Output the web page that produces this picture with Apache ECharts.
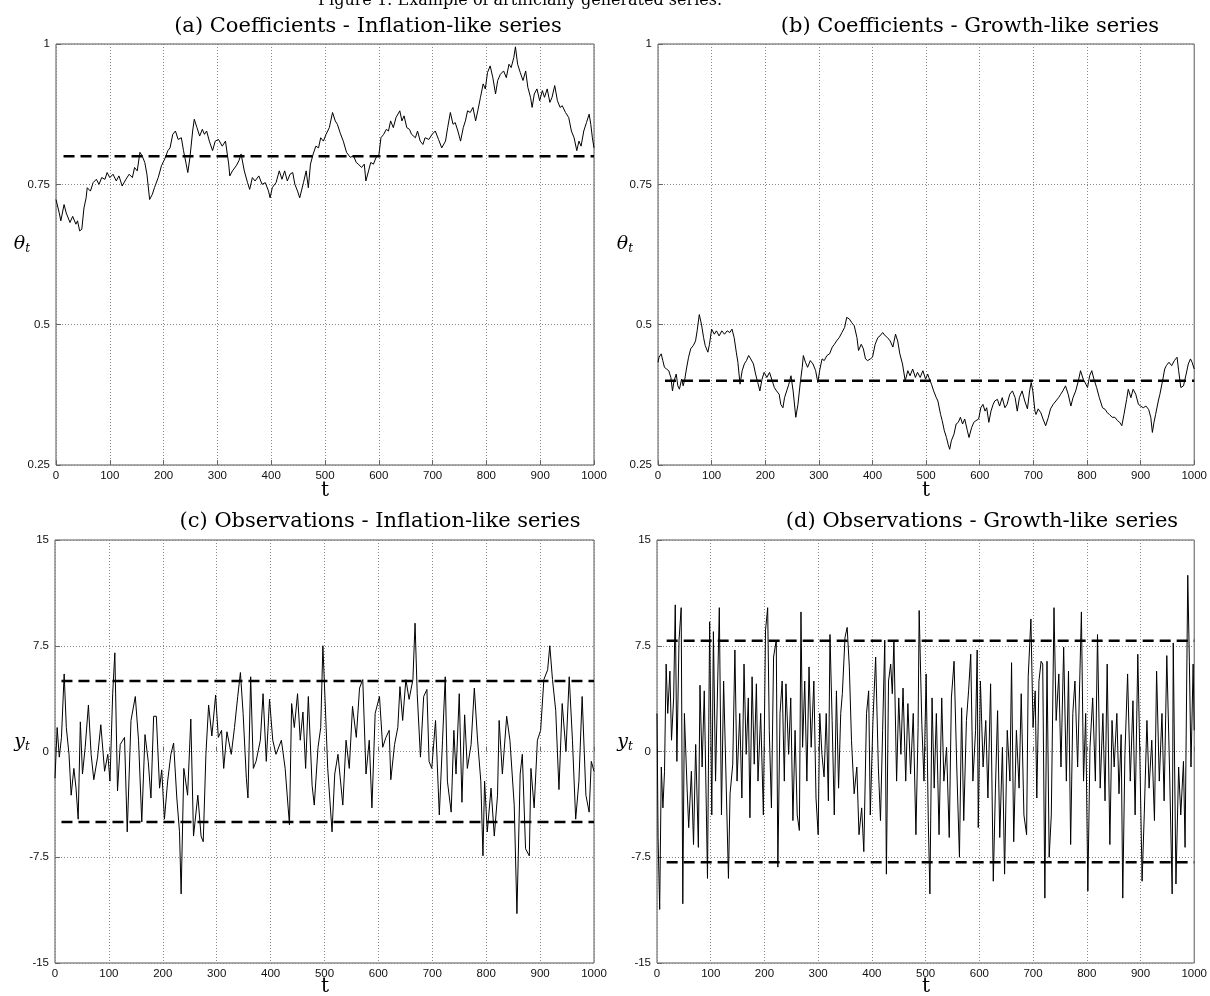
<!DOCTYPE html>
<html>
<head>
<meta charset="utf-8">
<script src="https://cdn.jsdelivr.net/npm/echarts@6/dist/echarts.min.js"></script>
<style>
html,body{margin:0;padding:0;background:#fff;}
#chart{width:1210px;height:996px;}
</style>
</head>
<body>
<div id="chart"></div>
<script>
// (a) coefficients - inflation-like, [t, theta]
var thetaInflation = [[0,0.723],[6,0.699],[9,0.685],[15,0.714],[19,0.699],[26,0.682],[31,0.693],[37,0.679],[40,0.685],[44,0.667],[48,0.670],[52,0.708],[56,0.726],[58,0.744],[64,0.738],[69,0.753],[75,0.759],[80,0.75],[85,0.762],[91,0.759],[95,0.771],[100,0.762],[106,0.768],[112,0.756],[117,0.765],[123,0.747],[130,0.759],[136,0.768],[142,0.762],[146,0.78],[151,0.774],[156,0.807],[160,0.801],[165,0.789],[169,0.768],[174,0.723],[179,0.732],[183,0.744],[190,0.762],[196,0.783],[202,0.795],[208,0.81],[212,0.815],[217,0.839],[222,0.845],[227,0.83],[233,0.833],[237,0.81],[242,0.786],[245,0.771],[249,0.798],[254,0.845],[257,0.866],[262,0.851],[267,0.836],[272,0.848],[276,0.839],[280,0.845],[285,0.827],[291,0.81],[296,0.827],[302,0.83],[309,0.818],[315,0.827],[321,0.786],[323,0.765],[328,0.774],[335,0.783],[340,0.792],[344,0.804],[350,0.774],[356,0.753],[360,0.741],[365,0.762],[370,0.756],[377,0.765],[383,0.75],[389,0.753],[395,0.738],[398,0.726],[402,0.744],[409,0.753],[415,0.774],[420,0.759],[425,0.774],[430,0.756],[435,0.768],[440,0.771],[444,0.75],[449,0.738],[453,0.726],[460,0.753],[465,0.774],[469,0.744],[473,0.786],[478,0.804],[483,0.818],[488,0.815],[492,0.833],[497,0.827],[502,0.839],[508,0.851],[514,0.878],[519,0.863],[523,0.857],[528,0.842],[534,0.827],[540,0.807],[547,0.798],[553,0.801],[558,0.789],[562,0.786],[568,0.78],[573,0.786],[576,0.756],[581,0.774],[585,0.789],[590,0.786],[595,0.798],[600,0.801],[604,0.833],[609,0.839],[614,0.848],[618,0.845],[622,0.863],[627,0.851],[632,0.869],[639,0.881],[643,0.863],[647,0.872],[652,0.851],[657,0.848],[661,0.839],[668,0.833],[672,0.845],[677,0.827],[682,0.821],[686,0.833],[693,0.83],[699,0.839],[705,0.845],[711,0.83],[717,0.815],[724,0.827],[728,0.851],[733,0.878],[738,0.857],[742,0.86],[747,0.845],[752,0.827],[757,0.851],[761,0.863],[765,0.881],[770,0.878],[775,0.887],[780,0.863],[784,0.881],[789,0.905],[794,0.929],[798,0.92],[802,0.949],[807,0.961],[812,0.94],[817,0.911],[821,0.935],[826,0.946],[832,0.952],[837,0.94],[842,0.964],[846,0.958],[851,0.976],[854,0.995],[858,0.964],[863,0.949],[868,0.935],[873,0.952],[877,0.923],[882,0.905],[885,0.887],[889,0.911],[894,0.92],[899,0.899],[904,0.917],[908,0.905],[913,0.92],[918,0.896],[922,0.905],[927,0.926],[932,0.899],[937,0.887],[941,0.89],[947,0.878],[953,0.869],[958,0.845],[963,0.833],[968,0.81],[972,0.827],[976,0.818],[981,0.845],[986,0.86],[991,0.875],[994,0.857],[997,0.833],[1000,0.815]];
var thetaInflationMean = [[14,0.8],[1000,0.8]];

// (b) coefficients - growth-like
var thetaGrowth = [[0,0.433],[2,0.442],[6,0.448],[9,0.436],[12,0.424],[16,0.421],[20,0.418],[24,0.406],[27,0.382],[30,0.4],[34,0.412],[37,0.391],[40,0.385],[44,0.403],[47,0.391],[50,0.403],[53,0.421],[57,0.442],[61,0.457],[66,0.463],[70,0.471],[73,0.489],[77,0.518],[81,0.501],[85,0.477],[88,0.463],[93,0.451],[96,0.465],[100,0.492],[105,0.483],[109,0.489],[114,0.48],[119,0.489],[124,0.483],[129,0.489],[134,0.486],[138,0.492],[142,0.477],[146,0.451],[149,0.433],[153,0.394],[157,0.418],[161,0.43],[165,0.436],[169,0.445],[173,0.439],[178,0.43],[182,0.412],[186,0.397],[190,0.382],[194,0.403],[198,0.415],[203,0.406],[208,0.415],[213,0.4],[217,0.388],[221,0.382],[226,0.376],[229,0.358],[233,0.352],[236,0.37],[240,0.382],[244,0.394],[248,0.409],[252,0.382],[257,0.335],[261,0.358],[265,0.394],[269,0.424],[271,0.445],[275,0.433],[279,0.424],[284,0.436],[289,0.43],[294,0.418],[298,0.397],[302,0.421],[306,0.439],[310,0.436],[315,0.445],[320,0.448],[325,0.46],[329,0.465],[333,0.471],[338,0.477],[343,0.486],[348,0.495],[352,0.513],[357,0.51],[361,0.504],[366,0.498],[371,0.477],[374,0.454],[379,0.465],[383,0.457],[387,0.439],[391,0.436],[396,0.439],[400,0.442],[405,0.465],[410,0.477],[414,0.48],[419,0.486],[424,0.48],[428,0.477],[433,0.471],[438,0.46],[443,0.483],[447,0.471],[451,0.448],[456,0.43],[461,0.4],[466,0.418],[470,0.409],[475,0.421],[480,0.406],[484,0.415],[489,0.406],[494,0.418],[499,0.403],[503,0.412],[505,0.406],[510,0.394],[514,0.382],[519,0.37],[522,0.364],[527,0.34],[530,0.329],[534,0.311],[538,0.299],[541,0.287],[544,0.278],[547,0.293],[552,0.305],[556,0.323],[560,0.326],[564,0.335],[568,0.323],[572,0.332],[577,0.311],[580,0.299],[585,0.317],[589,0.326],[593,0.329],[598,0.332],[602,0.352],[606,0.358],[610,0.346],[613,0.352],[617,0.326],[621,0.346],[625,0.358],[628,0.364],[633,0.367],[637,0.355],[642,0.37],[647,0.352],[651,0.358],[656,0.376],[661,0.382],[666,0.37],[670,0.346],[674,0.37],[679,0.382],[684,0.364],[689,0.35],[693,0.382],[696,0.397],[699,0.382],[703,0.346],[705,0.34],[709,0.35],[714,0.343],[718,0.332],[723,0.32],[728,0.335],[732,0.35],[737,0.358],[742,0.364],[747,0.37],[751,0.376],[755,0.382],[760,0.391],[765,0.376],[770,0.355],[774,0.37],[779,0.382],[784,0.4],[788,0.418],[793,0.403],[798,0.394],[801,0.388],[805,0.409],[809,0.418],[813,0.403],[818,0.388],[823,0.37],[829,0.352],[834,0.349],[838,0.343],[842,0.34],[847,0.335],[852,0.335],[857,0.329],[861,0.326],[865,0.32],[869,0.34],[874,0.367],[877,0.385],[882,0.37],[886,0.385],[891,0.376],[896,0.358],[900,0.355],[905,0.352],[910,0.355],[915,0.349],[919,0.335],[922,0.308],[925,0.326],[928,0.34],[933,0.364],[936,0.376],[941,0.4],[945,0.421],[948,0.427],[953,0.433],[958,0.427],[963,0.436],[968,0.442],[971,0.418],[975,0.388],[980,0.391],[985,0.412],[989,0.43],[993,0.439],[996,0.433],[1000,0.421]];
var thetaGrowthMean = [[13,0.4],[1000,0.4]];

// (c) observations - inflation-like
var obsInflation = [[0,-1.9],[4,1.7],[8,-0.4],[12,1.0],[17,5.5],[21,1.7],[26,-0.2],[30,-3.1],[35,-1.2],[39,-2.6],[43,-4.8],[47,2.1],[51,-1.6],[56,0.3],[62,3.3],[67,-0.2],[72,-2.0],[79,-0.4],[85,1.9],[92,-1.4],[98,-0.2],[102,-2.1],[107,4.1],[111,7.0],[116,-2.8],[121,0.5],[129,1.0],[134,-5.7],[141,2.2],[149,3.9],[155,0.8],[161,-5.0],[167,1.2],[173,-0.7],[178,-3.3],[183,2.5],[188,2.5],[194,-2.6],[198,-1.3],[203,-4.8],[209,-2.1],[215,-0.2],[220,0.6],[226,-3.3],[231,-5.7],[234,-10.1],[239,-1.2],[246,-3.1],[252,2.3],[257,-6.0],[265,-3.1],[271,-6.0],[275,-6.4],[280,-0.2],[285,3.3],[291,1.1],[298,4.0],[303,1.0],[309,1.5],[313,-1.2],[319,1.4],[327,-0.2],[333,1.7],[339,3.9],[344,5.6],[349,2.7],[355,-1.9],[358,-3.3],[363,5.3],[368,-1.2],[373,-0.7],[381,0.8],[386,4.1],[392,-0.7],[398,3.7],[404,0.8],[410,-0.2],[420,0.8],[427,-1.2],[435,-5.2],[439,3.4],[444,1.7],[450,4.1],[455,0.8],[460,2.8],[465,-1.2],[470,3.9],[477,-2.4],[481,-3.8],[488,0.3],[493,1.7],[497,7.5],[501,3.7],[506,-1.2],[514,-5.7],[519,-1.6],[525,-0.2],[534,-3.8],[540,0.8],[546,-1.2],[552,3.2],[559,1.0],[565,4.5],[571,5.1],[577,-1.6],[583,0.8],[588,-4.0],[594,2.7],[602,3.9],[608,0.3],[614,1.0],[620,1.5],[623,-2.0],[630,0.5],[636,1.7],[640,4.6],[645,2.2],[651,5.1],[657,3.7],[664,5.1],[668,9.1],[672,4.1],[678,-0.4],[684,3.9],[690,4.4],[694,-0.7],[699,-1.2],[706,2.2],[713,-4.5],[719,0.8],[724,5.3],[728,-2.1],[735,-4.3],[740,1.5],[744,-1.6],[750,4.1],[755,-3.6],[760,2.6],[765,-1.2],[772,0.5],[778,4.5],[784,0.8],[790,-2.1],[794,-7.4],[797,-2.1],[802,-5.7],[809,-2.6],[815,-6.0],[821,-3.1],[824,2.2],[830,-1.6],[838,2.5],[844,0.8],[852,-3.8],[857,-11.5],[863,-1.6],[867,-0.2],[873,-6.9],[880,-7.4],[883,-1.2],[889,-4.0],[895,0.8],[901,1.5],[907,5.1],[914,5.8],[918,7.5],[923,5.1],[929,2.9],[935,-2.7],[941,3.4],[948,0],[954,5.3],[960,0.8],[966,-4.8],[972,-2.1],[978,3.9],[985,-3.1],[991,-4.3],[995,-0.7],[1000,-1.4]];
var obsInflationUpper = [[12,5],[1000,5]];
var obsInflationLower = [[12,-5],[1000,-5]];

// (d) observations - growth-like
var obsGrowth = [[0,2.7],[2,-6.1],[5,-11.2],[8,-1.1],[11,-4.0],[14,-1.4],[17,6.2],[20,2.7],[24,5.7],[27,0.8],[31,3.8],[34,10.4],[37,-0.7],[41,7.9],[45,10.2],[48,-10.8],[51,2.7],[56,-2.6],[59,-5.4],[64,-1.4],[68,-6.6],[72,0.5],[77,-6.8],[80,4.7],[84,-1.1],[88,4.3],[92,-4.5],[94,-9.0],[98,9.2],[102,-4.5],[105,8.5],[109,-2.1],[113,5.0],[116,10.2],[120,-4.5],[124,5.0],[128,-1.1],[133,-9.0],[136,-3.0],[141,-0.9],[145,7.2],[149,-2.1],[154,2.7],[158,-3.3],[162,6.2],[166,-0.2],[170,3.8],[173,-4.7],[177,5.3],[181,-0.9],[185,4.8],[188,-2.1],[193,2.7],[198,-4.5],[202,8.6],[206,10.2],[209,1.5],[213,-4.0],[217,6.7],[222,7.9],[225,-8.2],[229,2.7],[233,5.0],[237,-2.1],[240,4.8],[245,-0.2],[249,3.8],[253,-4.9],[257,1.5],[261,-4.5],[265,-5.6],[268,9.9],[271,0.3],[275,5.0],[279,-2.1],[283,6.0],[287,0.3],[292,5.0],[296,-3.3],[300,-5.9],[303,2.7],[307,-0.2],[311,-1.8],[315,2.7],[319,-3.5],[322,8.3],[326,2.2],[330,-4.5],[334,4.3],[338,-2.6],[342,2.7],[345,4.1],[350,8.1],[354,8.8],[358,6.0],[362,0.8],[367,-3.0],[372,-1.1],[376,-5.9],[381,-4.0],[385,-7.1],[390,2.7],[394,4.3],[397,-4.5],[402,2.2],[407,6.7],[412,-1.1],[416,-4.9],[420,1.5],[424,7.9],[427,-8.7],[431,5.0],[435,6.2],[438,4.1],[441,7.9],[446,-2.1],[450,3.8],[454,-0.2],[458,4.5],[463,-2.1],[467,3.4],[472,-1.6],[477,2.7],[482,-5.9],[486,1.7],[488,10.0],[493,1.9],[497,-2.1],[501,5.5],[505,-4.9],[508,-10.1],[512,3.8],[516,-2.6],[520,2.7],[525,-5.9],[530,3.8],[534,-2.1],[539,0.3],[544,-6.1],[548,3.8],[553,6.4],[558,-1.1],[563,-7.5],[567,3.1],[571,-4.9],[576,2.2],[580,4.3],[584,6.9],[588,-2.1],[593,1.5],[596,7.2],[598,-5.4],[602,5.0],[607,-1.1],[612,2.2],[616,-3.3],[621,4.8],[626,-9.2],[630,-2.6],[634,2.9],[638,-6.1],[643,0.3],[647,-8.7],[652,1.5],[657,-2.1],[660,6.3],[664,-6.4],[669,1.5],[674,-2.6],[678,4.1],[683,-4.5],[688,-5.9],[691,5.3],[696,9.4],[700,1.7],[704,4.3],[707,-3.3],[711,5.0],[715,6.4],[718,6.2],[722,-10.4],[726,6.4],[730,-7.5],[734,-4.5],[739,10.2],[743,2.2],[748,5.5],[752,-1.1],[757,7.4],[762,-2.1],[766,5.7],[770,-6.6],[774,2.7],[778,5.0],[783,-1.1],[790,9.9],[794,-2.1],[798,2.7],[802,-9.9],[806,0.3],[811,3.8],[816,-2.1],[820,8.3],[825,-2.6],[830,2.7],[834,-3.5],[838,6.2],[843,-6.6],[847,2.2],[851,-1.1],[856,2.7],[860,-3.0],[864,1.2],[867,-10.4],[871,-0.2],[876,5.5],[881,-2.1],[886,3.6],[890,-4.5],[895,6.9],[899,-0.7],[903,-9.2],[907,-4.5],[912,2.2],[916,-2.6],[921,0.8],[926,-4.9],[930,5.7],[935,-2.1],[940,2.7],[944,-3.5],[949,6.8],[954,-1.1],[959,-10.1],[961,7.7],[966,-9.4],[971,-1.1],[975,-4.5],[980,-0.7],[983,-6.8],[988,12.5],[991,6.4],[994,-1.1],[998,6.2],[1000,1.5]];
var obsGrowthUpper = [[18,7.85],[1000,7.85]];
var obsGrowthLower = [[18,-7.85],[1000,-7.85]];

var panelTitles = ['(a) Coefficients - Inflation-like series', '(b) Coefficients - Growth-like series',
                   '(c) Observations - Inflation-like series', '(d) Observations - Growth-like series'];
var caption = 'Figure 1: Example of artificially generated series.';

var serif = 'DejaVu Serif';
var sans = 'Liberation Sans';

var figure = echarts.init(document.getElementById('chart'));

function xAxisFor(i) {
	return {
		type: 'value', gridIndex: i, min: 0, max: 1000, interval: 100,
		axisLine: {show: false},
		axisTick: {inside: true, length: 5, lineStyle: {color: '#666'}},
		axisLabel: {color: '#111', fontFamily: sans, fontSize: 11.5, margin: 5,
			formatter: function (v) { return String(v); }},
		splitLine: {show: true, lineStyle: {color: '#888', type: [1, 2], width: 1}}
	};
}
function yAxisFor(i, min, max, step) {
	return {
		type: 'value', gridIndex: i, min: min, max: max, interval: step,
		axisLine: {show: false},
		axisTick: {inside: true, length: 5, lineStyle: {color: '#666'}},
		axisLabel: {color: '#111', fontFamily: sans, fontSize: 11.5, margin: 6},
		splitLine: {show: true, lineStyle: {color: '#888', type: [1, 2], width: 1}}
	};
}
function path(i, data) {
	return {type: 'line', xAxisIndex: i, yAxisIndex: i, data: data, showSymbol: false,
		lineStyle: {color: '#000', width: 1}, z: 3};
}
function dashed(i, data) {
	return {type: 'line', xAxisIndex: i, yAxisIndex: i, data: data, showSymbol: false,
		lineStyle: {color: '#000', width: 2.5, type: [11, 6]}, z: 4};
}
function label(x, y, text, size) {
	return {type: 'text', x: x, y: y, style: {text: text, fontFamily: serif, fontSize: size || 21,
		fill: '#000', align: 'center', verticalAlign: 'middle'}};
}
function varLabel(x, y, sym) {
	return {type: 'text', x: x, y: y, style: {
		text: '{a|' + sym + '}{b|t}', align: 'center', verticalAlign: 'middle',
		rich: {
			a: {fontFamily: serif, fontStyle: 'italic', fontSize: 19, fill: '#000', lineHeight: 26},
			b: {fontFamily: serif, fontStyle: 'italic', fontSize: 12, fill: '#000', lineHeight: 26, padding: [9, 0, 0, 0]}
		}
	}};
}

var gridBox = {show: true, borderColor: '#555', borderWidth: 1, backgroundColor: 'transparent'};

option = {
	animation: false,
	backgroundColor: '#fff',
	grid: [
		Object.assign({left: 56, top: 44, width: 538, height: 421}, gridBox),
		Object.assign({left: 658, top: 44, width: 537, height: 421}, gridBox),
		Object.assign({left: 55, top: 540, width: 539, height: 423}, gridBox),
		Object.assign({left: 657, top: 540, width: 538, height: 423}, gridBox)
	],
	xAxis: [xAxisFor(0), xAxisFor(1), xAxisFor(2), xAxisFor(3)],
	yAxis: [
		yAxisFor(0, 0.25, 1, 0.25),
		yAxisFor(1, 0.25, 1, 0.25),
		yAxisFor(2, -15, 15, 7.5),
		yAxisFor(3, -15, 15, 7.5)
	],
	series: [
		path(0, thetaInflation), dashed(0, thetaInflationMean),
		path(1, thetaGrowth), dashed(1, thetaGrowthMean),
		path(2, obsInflation), dashed(2, obsInflationUpper), dashed(2, obsInflationLower),
		path(3, obsGrowth), dashed(3, obsGrowthUpper), dashed(3, obsGrowthLower)
	],
	graphic: [
		label(520, 1, caption, 16),
		label(368, 27, panelTitles[0]),
		label(970, 27, panelTitles[1]),
		label(380, 522, panelTitles[2]),
		label(982, 522, panelTitles[3]),
		label(325, 491, 't', 20),
		label(926, 491, 't', 20),
		label(325, 987, 't', 20),
		label(926, 987, 't', 20),
		varLabel(22, 244, 'θ'),
		varLabel(625, 244, 'θ'),
		varLabel(22, 742, 'y'),
		varLabel(625, 742, 'y')
	]
};
figure.setOption(option);
</script>
</body>
</html>
